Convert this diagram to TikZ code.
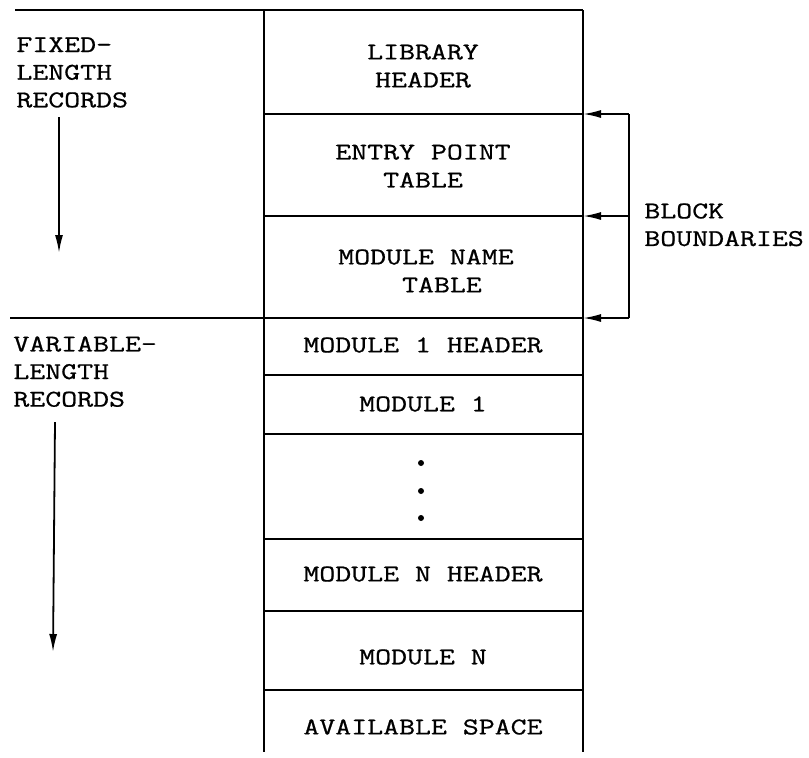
\documentclass[tikz,border=0pt]{standalone}
\usepackage{fontspec}
\newfontfamily\typew[FakeStretch=1.29,FakeBold=0.8]{Latin Modern Mono}
\usetikzlibrary{arrows.meta}
\tikzset{
  rec/.style={font=\typew\fontsize{12}{14}\selectfont, align=center, inner sep=0pt},
  lbl/.style={font=\typew\fontsize{12}{13.8}\selectfont, align=left,
              anchor=north west, inner sep=0pt},
  ln/.style={line width=0.9pt},
  fl/.style={-{Latex[length=9pt,width=4pt]}, line width=0.9pt},
}

\begin{document}
\begin{tikzpicture}[x=0.5pt,y=-0.5pt]
  \useasboundingbox (0,0) rectangle (809,757);
  % record column
  \draw[ln] (15,10) -- (583,10);
  \draw[ln] (264,10) -- (264,752);
  \draw[ln] (583,10) -- (583,752);
  \draw[ln] (10,318) -- (583,318);
  \foreach \y in {114,216,375,434,539,611,690}
    \draw[ln] (264,\y) -- (583,\y);

  \node[rec] (lh) at (423,66) {LIBRARY\\HEADER};
  \node[rec] (ept) at (423,166) {ENTRY POINT\\TABLE};
  \node[rec, align=left] (mnt) at (426,271) {MODULE NAME\\\phantom{MODU}TABLE};
  \node[rec] (m1h) at (423,345) {MODULE 1 HEADER};
  \node[rec] (m1) at (423,404) {MODULE 1};
  \foreach \y/\n in {463/d1,491/d2,518/d3}
    \fill (421,\y) circle (3) coordinate (\n);
  \node[rec] (mnh) at (423,574) {MODULE N HEADER};
  \node[rec] (mn) at (423,657) {MODULE N};
  \node[rec] (avs) at (423,727) {AVAILABLE SPACE};

  % block boundaries
  \coordinate (b1) at (629,114);
  \coordinate (b2) at (629,216);
  \coordinate (b3) at (629,318);
  \draw[ln] (b1) -- (b3);
  \draw[fl] (b1) -- (583,114);
  \draw[fl] (b2) -- (583,216);
  \draw[fl] (b3) -- (583,318);
  \node[lbl] (bb) at (644,203) {BLOCK\\BOUNDARIES};

  % record kinds
  \node[lbl] (fix) at (16,37) {FIXED-\\LENGTH\\RECORDS};
  \node[lbl] (var) at (13,336) {VARIABLE-\\LENGTH\\RECORDS};
  \coordinate (f1) at (59,117);
  \coordinate (f2) at (59,253);
  \coordinate (v1) at (55,422);
  \coordinate (v2) at (53,652);
  \draw[fl] (f1) -- (f2);
  \draw[fl] (v1) -- (v2);
\end{tikzpicture}
\end{document}
